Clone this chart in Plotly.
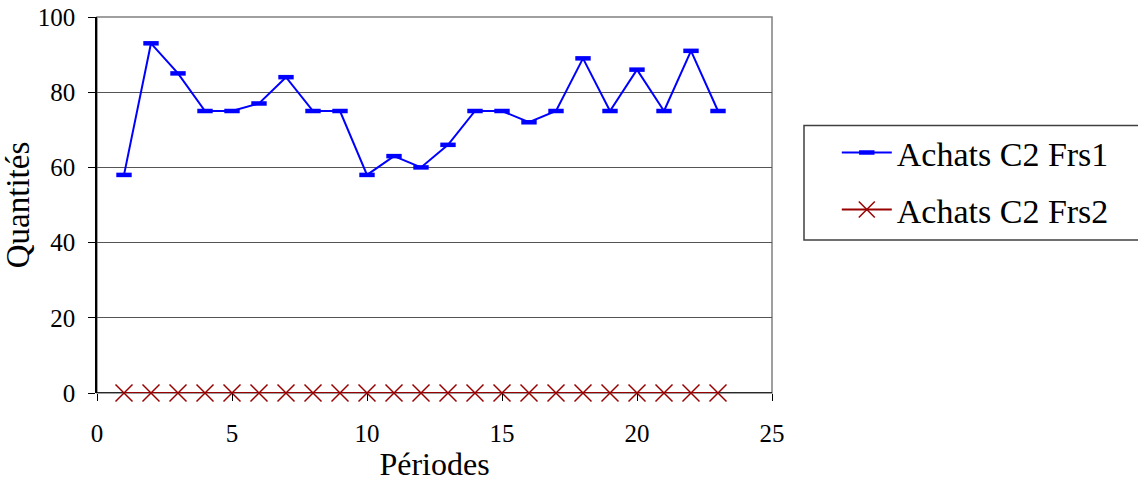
import plotly.graph_objects as go

periods = list(range(1, 24))
frs1 = [58, 93, 85, 75, 75, 77, 84, 75, 75, 58, 63, 60, 66, 75, 75, 72, 75, 89, 75, 86, 75, 91, 75]
frs2 = [0] * 23
x_ticks = [0, 5, 10, 15, 20, 25]
y_ticks = [0, 20, 40, 60, 80, 100]

font = "'Liberation Serif', 'Times New Roman', serif"

fig = go.Figure()
fig.add_trace(go.Scatter(
    x=periods, y=frs1, mode="lines+markers", name="Achats C2 Frs1",
    legendgroup="a", cliponaxis=False,
    line=dict(color="#0000FF", width=2),
    marker=dict(symbol="line-ew", size=11, color="#0000FF", line=dict(color="#0000FF", width=4.5)),
))
fig.add_trace(go.Scatter(
    x=periods, y=frs2, mode="lines+markers", name="Achats C2 Frs2",
    legendgroup="b", cliponaxis=False,
    line=dict(color="#990000", width=2),
    marker=dict(symbol="x-thin", size=17, color="#990000", line=dict(color="#990000", width=1.5)),
))

fig.update_layout(
    width=1138, height=482,
    margin=dict(l=97, r=366, t=17, b=89),
    paper_bgcolor="white", plot_bgcolor="white",
    font=dict(family=font, size=25, color="black"),
    showlegend=True,
    legend=dict(
        x=1.096, y=0.716, xanchor="left", yanchor="top",
        borderwidth=0, bgcolor="rgba(0,0,0,0)",
        font=dict(family=font, size=34),
        traceorder="grouped", tracegroupgap=10,
        itemwidth=50,
    ),
    xaxis=dict(
        range=[0, 25], tickvals=x_ticks, showgrid=False, zeroline=False,
        showline=False, automargin=False,
        ticks="outside", ticklen=7, tickcolor="black",
        ticklabelstandoff=11,
        title=dict(text="Périodes", font=dict(family=font, size=32), standoff=4),
        tickfont=dict(family=font, size=25),
    ),
    yaxis=dict(
        range=[0, 100], tickvals=y_ticks, showgrid=True, gridcolor="#555555", gridwidth=1,
        zeroline=False, showline=True, linecolor="black", linewidth=1.5, automargin=False,
        ticks="outside", ticklen=7, tickcolor="black",
        ticklabelstandoff=8,
        title=dict(text="Quantités", font=dict(family=font, size=33), standoff=10),
        tickfont=dict(family=font, size=25),
    ),
)

# plot area border (gray), black axis line at y=0
fig.add_shape(type="rect", xref="paper", yref="paper", x0=0, x1=1, y0=0, y1=1,
              line=dict(color="#808080", width=1.5), layer="below")
fig.add_shape(type="line", xref="paper", yref="y", x0=0, x1=1, y0=0, y1=0,
              line=dict(color="black", width=1.5), layer="below")
# legend frame
fig.add_shape(type="rect", xref="paper", yref="paper",
              x0=(804 - 97) / 675, x1=(1140 - 97) / 675,
              y0=(393 - 240) / 376, y1=(393 - 125.5) / 376,
              line=dict(color="#404040", width=1.5), fillcolor="rgba(0,0,0,0)")

fig.write_html("out.html", config={"displayModeBar": False},
               post_script="document.body.style.margin='0';")
